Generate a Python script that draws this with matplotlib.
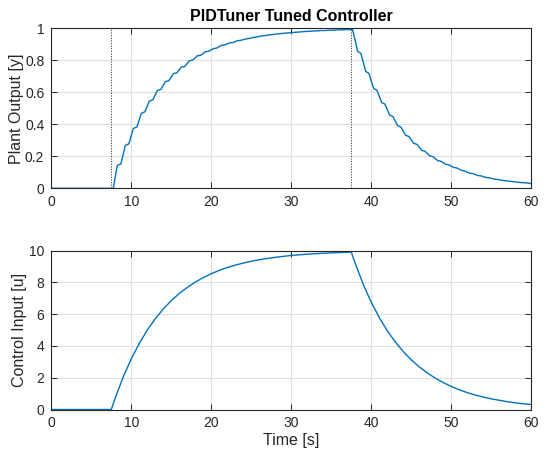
import matplotlib
matplotlib.use("Agg")
import matplotlib.pyplot as plt
import numpy as np

# ---------------- data ----------------
# Plant output: staircase-like response; each "plateau" is given by its
# start and end point (times and values)
y_t = [0.0, 7.75,
       8.25, 8.7, 9.25, 9.7, 10.25, 10.7, 11.25, 11.7, 12.25, 12.7,
       13.25, 13.7, 14.25, 14.7, 15.25, 15.7, 16.25, 16.7, 17.25, 17.7,
       18.25, 18.7, 19.25, 19.7, 20.25, 20.7, 21.25, 21.7, 22.25, 22.7,
       23.25, 23.7, 24.25, 24.7, 25.25, 25.7, 26.25, 26.7, 27.25, 27.7,
       28.25, 28.7, 29.25, 29.7, 30.25, 30.7, 31.25, 31.7, 32.25, 32.7,
       33.25, 33.7, 34.25, 34.7, 35.25, 35.7, 36.25, 36.7, 37.25, 37.65,
       38.3, 38.7, 39.3, 39.7, 40.3, 40.7, 41.3, 41.7, 42.3, 42.7,
       43.3, 43.7, 44.3, 44.7, 45.3, 45.7, 46.3, 46.7, 47.3, 47.7,
       48.3, 48.7, 49.3, 49.7, 50.3, 50.7, 51.3, 51.7, 52.3, 52.7,
       53.3, 53.7, 54.3, 54.7, 55.3, 55.7, 56.3, 56.7, 57.3, 57.7,
       58.3, 58.7, 59.3, 59.7, 60.0]
y_v = [0.0, 0.0,
       0.143, 0.152, 0.268, 0.278, 0.374, 0.383, 0.469, 0.478, 0.545, 0.553,
       0.611, 0.618, 0.666, 0.673, 0.716, 0.722, 0.757, 0.762, 0.797, 0.802,
       0.828, 0.832, 0.853, 0.857, 0.873, 0.877, 0.893, 0.896, 0.908, 0.911,
       0.922, 0.925, 0.933, 0.936, 0.943, 0.946, 0.952, 0.954, 0.959, 0.961,
       0.965, 0.967, 0.970, 0.972, 0.974, 0.976, 0.978, 0.980, 0.981, 0.983,
       0.984, 0.986, 0.986, 0.988, 0.988, 0.990, 0.990, 0.992, 0.992, 0.994,
       0.856, 0.843, 0.731, 0.718, 0.624, 0.613, 0.536, 0.526, 0.457, 0.449,
       0.391, 0.383, 0.331, 0.324, 0.281, 0.275, 0.237, 0.232, 0.203, 0.198,
       0.173, 0.169, 0.150, 0.147, 0.130, 0.127, 0.111, 0.108, 0.094, 0.092,
       0.080, 0.078, 0.068, 0.066, 0.058, 0.056, 0.050, 0.048, 0.044, 0.042,
       0.038, 0.036, 0.034, 0.032, 0.029]

# Control input
u_t = [0, 7.5, 8, 9, 10, 11, 12, 13, 14, 15, 16, 17, 18, 19, 20, 21, 22, 23,
       24, 25, 26, 27, 28, 29, 30, 31, 32, 33, 34, 35, 36, 37, 37.5,
       38, 39, 40, 41, 42, 43, 44, 45, 46, 47, 48, 49, 50, 51, 52, 53, 54,
       55, 56, 57, 58, 59, 60]
u_v = [0, 0, 0.74, 2.06, 3.19, 4.16, 5.00, 5.71, 6.32, 6.85, 7.30, 7.68, 8.01,
       8.30, 8.54, 8.75, 8.93, 9.08, 9.21, 9.32, 9.42, 9.50, 9.57, 9.63, 9.69,
       9.73, 9.77, 9.80, 9.83, 9.85, 9.87, 9.89, 9.90,
       9.17, 7.86, 6.74, 5.78, 4.95, 4.25, 3.64, 3.12, 2.68, 2.30, 1.97, 1.69,
       1.45, 1.24, 1.06, 0.91, 0.78, 0.67, 0.58, 0.49, 0.42, 0.36, 0.31]

step_times = [7.5, 37.5]

x_ticks = [0, 10, 20, 30, 40, 50, 60]
y1_ticks = [0, 0.2, 0.4, 0.6, 0.8, 1]
y1_labels = ["0", "0.2", "0.4", "0.6", "0.8", "1"]
y2_ticks = [0, 2, 4, 6, 8, 10]

# ---------------- style ----------------
plt.rcParams['font.family'] = ['Liberation Sans', 'DejaVu Sans']
LINE = '#0072BD'
AXC = '#262626'

W, H = 555, 454
fig = plt.figure(figsize=(W / 100, H / 100), dpi=100)

def style(ax):
    for s in ax.spines.values():
        s.set_color(AXC)
        s.set_linewidth(0.8)
    ax.tick_params(direction='in', length=4, width=0.7, colors=AXC,
                   top=True, right=True, labelsize=10, pad=5)
    ax.grid(True, color='#DFDFDF', linewidth=0.8)
    ax.set_axisbelow(True)

x0, x1 = 51.3 / W, 531.3 / W
ax1 = fig.add_axes([x0, 1 - 188.3 / H, x1 - x0, 160 / H])
ax2 = fig.add_axes([x0, 1 - 409.5 / H, x1 - x0, 159 / H])

ax1.plot(y_t, y_v, color=LINE, linewidth=1.0)
for ts in step_times:
    ax1.axvline(ts, color='#404040', linestyle=(0, (1.2, 1.5)), linewidth=0.7)
ax1.set_xlim(0, 60)
ax1.set_ylim(0, 1)
ax1.set_xticks(x_ticks)
ax1.set_yticks(y1_ticks)
ax1.set_yticklabels(y1_labels)
ax1.set_ylabel("Plant Output [y]", fontsize=11.5, color=AXC)
ax1.yaxis.set_label_coords(-0.056, 0.5)
ax1.set_title("PIDTuner Tuned Controller", fontsize=11.5, fontweight='bold',
              color='black', pad=5)
style(ax1)

ax2.plot(u_t, u_v, color=LINE, linewidth=1.0)
ax2.set_xlim(0, 60)
ax2.set_ylim(0, 10)
ax2.set_xticks(x_ticks)
ax2.set_yticks(y2_ticks)
ax2.set_ylabel("Control Input [u]", fontsize=11.5, color=AXC)
ax2.yaxis.set_label_coords(-0.051, 0.5)
ax2.set_xlabel("Time [s]", fontsize=11.5, color=AXC, labelpad=2)
style(ax2)

fig.savefig("out.png", dpi=100)
